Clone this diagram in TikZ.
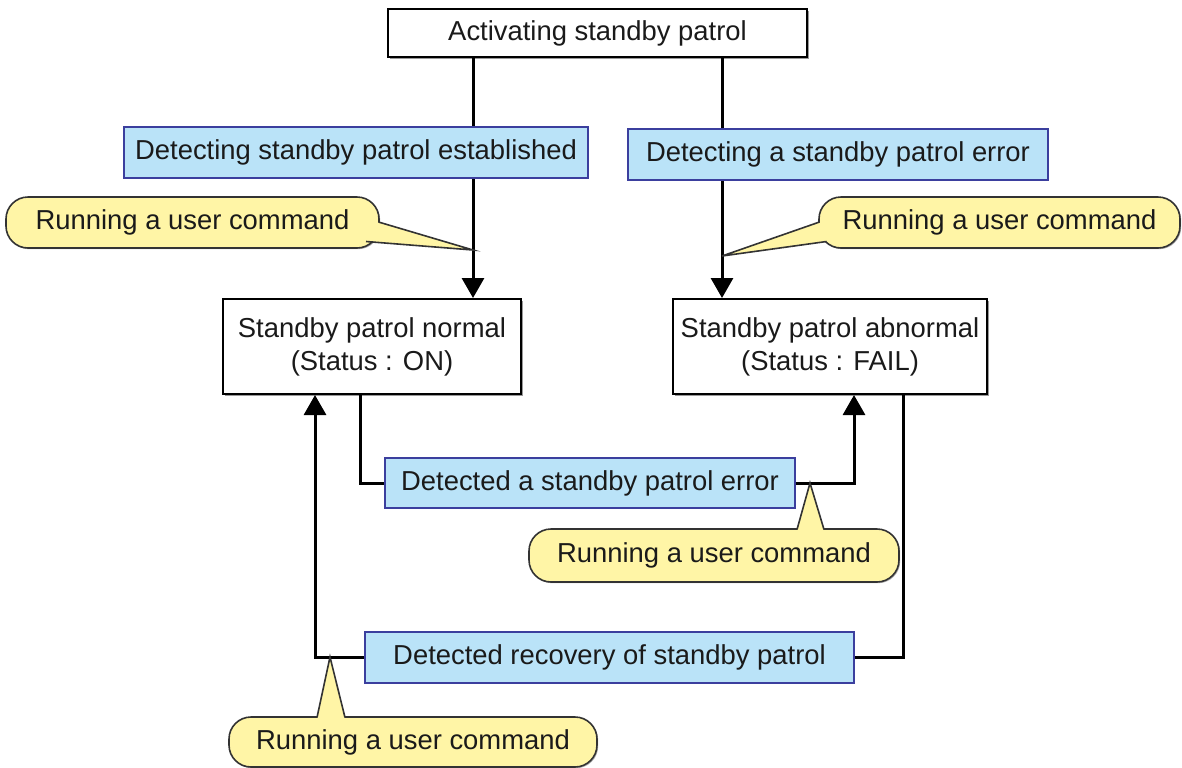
\documentclass[tikz,border=0pt]{standalone}
\usepackage{fontspec}
\setmainfont{Liberation Sans}
\usetikzlibrary{arrows.meta,shadows}
\definecolor{lblue}{HTML}{BAE3F8}
\definecolor{dblue}{HTML}{3B3F9E}
\definecolor{lyellow}{HTML}{FFF5A6}
\definecolor{txt}{HTML}{1A1A1A}
\begin{document}
\begin{tikzpicture}[x=0.5pt,y=-0.5pt,
  font=\fontsize{13.7}{16.5}\selectfont, text=txt,
  statebox/.style={draw=black, line width=1pt, fill=white, inner sep=0pt, align=center,
    drop shadow={shadow xshift=1pt, shadow yshift=-1pt, fill=black!40, opacity=1}},
  eventbox/.style={draw=dblue, line width=1pt, fill=lblue, inner sep=0pt,
    drop shadow={shadow xshift=0.6pt, shadow yshift=-0.6pt, fill=black!25, opacity=1}},
  calloutbox/.style={draw=black!80, line width=0.8pt, fill=lyellow, rounded corners=11pt, inner sep=0pt,
    drop shadow={shadow xshift=0.6pt, shadow yshift=-0.6pt, fill=black!30, opacity=1}},
  pointer/.style={draw=black!80, line width=0.8pt},
  flow/.style={line width=1.5pt, -{Triangle[width=11pt,length=10pt]}}
]
\useasboundingbox (0,0) rectangle (1182,767);

% state boxes
\node[statebox, minimum width=209.5pt, minimum height=24pt] (start) at (597.5,33) {Activating standby patrol};
\node[statebox, minimum width=149pt, minimum height=47.5pt] (normal) at (372,346.5) {Standby patrol normal\\(Status : ON)};
\node[statebox, minimum width=157pt, minimum height=47.5pt] (abnormal) at (830,346.5) {Standby patrol abnormal\\(Status : FAIL)};

% guide coordinates
\coordinate (xa) at (473,0);
\coordinate (xb) at (722,0);
\coordinate (xc) at (360,0);
\coordinate (xd) at (854,0);
\coordinate (xe) at (903,0);
\coordinate (xf) at (315,0);
\coordinate (h1) at (0,483);
\coordinate (h2) at (0,657);

% connectors
\draw[flow] (start.south -| xa) -- (normal.north -| xa);
\draw[flow] (start.south -| xb) -- (abnormal.north -| xb);
\draw[flow] (normal.south -| xc) -- (xc |- h1) -- (xd |- h1) -- (abnormal.south -| xd);
\draw[flow] (abnormal.south -| xe) -- (xe |- h2) -- (xf |- h2) -- (normal.south -| xf);

% event labels
\node[eventbox, minimum width=232pt, minimum height=25.5pt] (ev1) at (356,152.5) {Detecting standby patrol established};
\node[eventbox, minimum width=210pt, minimum height=25.5pt] (ev2) at (838,154.5) {Detecting a standby patrol error};
\node[eventbox, minimum width=205pt, minimum height=25pt] (ev3) at (590,483) {Detected a standby patrol error};
\node[eventbox, minimum width=244.5pt, minimum height=25.5pt] (ev4) at (609.5,657.5) {Detected recovery of standby patrol};

% callouts
\node[calloutbox, minimum width=186.5pt, minimum height=25.5pt] (c1) at (192.5,222.5) {Running a user command};
\coordinate (t1) at (473,250);
\fill[lyellow] (377,222) -- (t1) -- (366,241) -- cycle;
\draw[pointer] (378.5,222) -- (t1) -- (366,241.5);

\node[calloutbox, minimum width=180.5pt, minimum height=25.5pt] (c2) at (999.5,222.5) {Running a user command};
\coordinate (t2) at (722,256);
\fill[lyellow] (821,222) -- (t2) -- (827,241) -- cycle;
\draw[pointer] (819.5,222) -- (t2) -- (826.5,241.5);

\node[calloutbox, minimum width=185pt, minimum height=26.5pt] (c3) at (714,555.5) {Running a user command};
\coordinate (t3) at (810,483);
\fill[lyellow] (797,531) -- (t3) -- (824,531) -- cycle;
\draw[pointer] (797,529.5) -- (t3) -- (824,529.5);

\node[calloutbox, minimum width=184pt, minimum height=25pt] (c4) at (413,742) {Running a user command};
\coordinate (t4) at (330,657);
\fill[lyellow] (317,719) -- (t4) -- (345,719) -- cycle;
\draw[pointer] (317,717.5) -- (t4) -- (345,717.5);
\end{tikzpicture}
\end{document}
